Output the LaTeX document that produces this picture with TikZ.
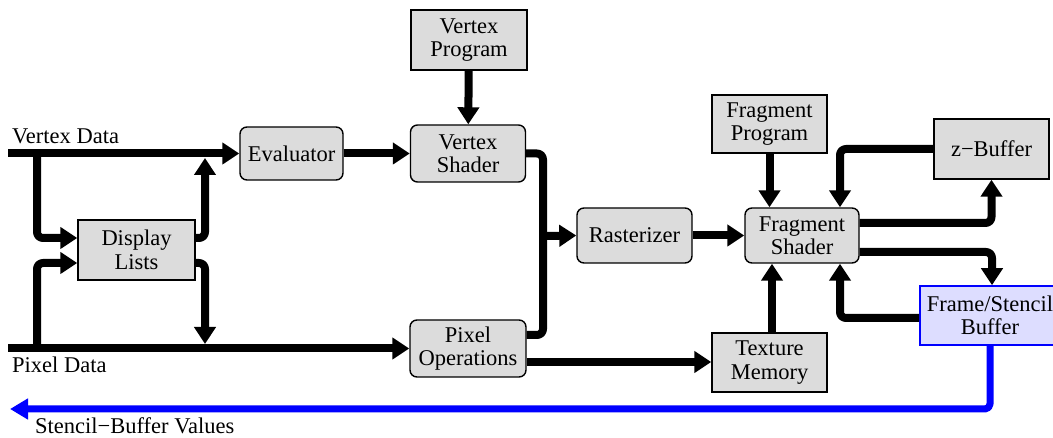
\documentclass[tikz,border=0pt]{standalone}
\usepackage{fontspec}
\setmainfont{Liberation Serif}
\usetikzlibrary{arrows.meta}
\definecolor{boxgray}{HTML}{DCDCDC}
\definecolor{boxblue}{HTML}{DDDDFF}
\definecolor{flowblue}{HTML}{0000FF}
\begin{document}
\begin{tikzpicture}[x=1pt,y=-1pt,
  every node/.style={font=\fontsize{22.5}{23.5}\selectfont, inner sep=0pt},
  sqbox/.style={draw, line width=1.4pt, fill=boxgray, align=center},
  rdbox/.style={sqbox, rounded corners=7pt},
  bluebox/.style={draw=flowblue, line width=1.6pt, fill=boxblue, align=center},
  flow/.style={line width=8pt, line join=round, rounded corners=6pt},
  arr/.style={flow, -{Triangle[length=17pt,width=21pt]}},
  bluearr/.style={line width=7pt, draw=flowblue, line join=round, rounded corners=5pt,
    -{Triangle[length=18pt,width=20pt]}},
  lbl/.style={anchor=base west}]
\useasboundingbox (0,0) rectangle (1053,438);

% boxes
\node[rdbox, minimum width=103pt, minimum height=53pt] (eval) at (291.5,153.5) {Evaluator};
\node[sqbox, minimum width=117pt, minimum height=60pt] (disp) at (136.5,250) {Display\\Lists};
\node[sqbox, minimum width=116pt, minimum height=60pt] (vprog) at (469,40) {Vertex\\Program};
\node[rdbox, minimum width=115pt, minimum height=57pt] (vshad) at (468,153.5) {Vertex\\Shader};
\node[rdbox, minimum width=116pt, minimum height=57pt] (pixop) at (468,348.5) {Pixel\\Operations};
\node[rdbox, minimum width=115pt, minimum height=55pt] (rast) at (634.5,235.5) {Rasterizer};
\node[sqbox, minimum width=115pt, minimum height=58pt] (fprog) at (769.5,124) {Fragment\\Program};
\node[rdbox, minimum width=114pt, minimum height=55pt] (fshad) at (802,235.5) {Fragment\\Shader};
\node[sqbox, minimum width=115pt, minimum height=60pt] (zbuf) at (991.5,149) {z−Buffer};
\node[bluebox, minimum width=140pt, minimum height=59pt] (fsb) at (990,315.5) {Frame/Stencil\\Buffer};
\node[sqbox, minimum width=115pt, minimum height=59pt] (tex) at (769.5,362.5) {Texture\\Memory};

% free ends and junctions
\coordinate (vd) at (8,153.5);
\coordinate (vdj) at (37,153.5);
\coordinate (pd) at (8,348.5);
\coordinate (pdj) at (37,348.5);
\coordinate (upTip) at (205,158);
\coordinate (dnTip) at (205,344);
\coordinate (rj) at (543,236);
\coordinate (sbv) at (10,409);
\coordinate (poOut) at ([yshift=-13.5pt]pixop.east);

% input buses
\draw[arr] (vd) -- (eval.west);
\draw[arr] (pd) -- (pixop.west);
\draw[arr] (vdj) |- ([yshift=12pt]disp.west);
\draw[arr] (pdj) |- ([yshift=-13pt]disp.west);
\draw[arr] ([yshift=12pt]disp.east) -| (upTip);
\draw[arr] ([yshift=-13pt]disp.east) -| (dnTip);

% vertex path
\draw[arr] (eval) -- (vshad);
\draw[arr] (vprog) -- (vshad);
\draw[flow] (vshad.east) -| (rj);
\draw[flow] ([yshift=13.5pt]pixop.east) -| (rj);
\draw[arr] (rj) -- (rast.west);

% fragment stage
\draw[arr] (rast) -- (fshad);
\draw[arr] (fprog.south) -- (fprog.south |- fshad.north);
\draw[arr] (zbuf.west) -| ([xshift=38pt]fshad.north);
\draw[arr] ([yshift=12.5pt]fshad.east) -| (zbuf.south);
\draw[arr] ([yshift=-16.5pt]fshad.east) -| ([xshift=2pt]fsb.north);
\draw[arr] ([yshift=-2.5pt]fsb.west) -| ([xshift=38pt]fshad.south);
\draw[arr] ([xshift=2.5pt]tex.north) -- ([xshift=2.5pt]tex.north |- fshad.south);
\draw[arr] (poOut) -- (tex.west |- poOut);

% stencil feedback
\draw[bluearr] (fsb.south) |- (sbv);

% labels
\node[lbl] (vdl) at (12,144) {Vertex Data};
\node[lbl] (pdl) at (12,373) {Pixel Data};
\node[lbl] (sbl) at (35,433) {Stencil−Buffer Values};
\end{tikzpicture}
\end{document}
